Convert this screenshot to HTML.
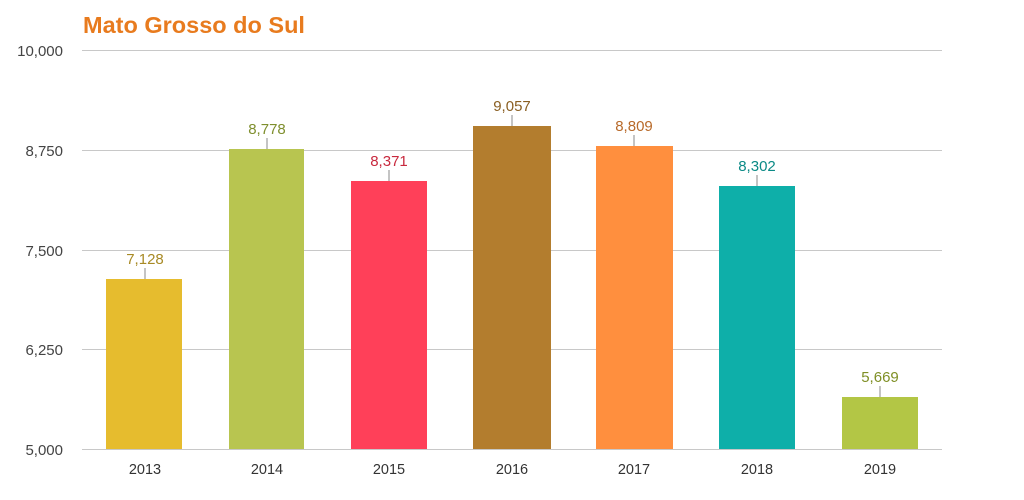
<!DOCTYPE html>
<html><head><meta charset="utf-8"><style>body{margin:0;background:#fff}svg{display:block}</style></head><body>
<svg width="1024" height="500" xmlns="http://www.w3.org/2000/svg" font-family="Liberation Sans, sans-serif">
<text x="83" y="33" font-size="23.5" font-weight="bold" fill="#e87b1e">Mato Grosso do Sul</text>
<g stroke="#c8c8c8" stroke-width="1">
<line x1="82" x2="942" y1="50.5" y2="50.5"/><line x1="82" x2="942" y1="150.5" y2="150.5"/><line x1="82" x2="942" y1="250.5" y2="250.5"/><line x1="82" x2="942" y1="349.5" y2="349.5"/><line x1="82" x2="942" y1="449.5" y2="449.5"/>
</g>
<g font-size="15" fill="#444" text-anchor="end">
<text x="63" y="56">10,000</text><text x="63" y="156">8,750</text><text x="63" y="256">7,500</text><text x="63" y="355">6,250</text><text x="63" y="455">5,000</text>
</g>
<g font-size="14.5" fill="#333" text-anchor="middle">
<text x="145" y="474">2013</text><text x="267" y="474">2014</text><text x="389" y="474">2015</text><text x="512" y="474">2016</text><text x="634" y="474">2017</text><text x="757" y="474">2018</text><text x="880" y="474">2019</text>
</g>
<g>
<rect x="106" y="279" width="76" height="170" fill="#e6bc2e"/>
<rect x="229" y="149" width="75" height="300" fill="#b8c550"/>
<rect x="351" y="181" width="76" height="268" fill="#ff4059"/>
<rect x="473" y="126" width="78" height="323" fill="#b37d2e"/>
<rect x="596" y="146" width="77" height="303" fill="#ff8f3e"/>
<rect x="719" y="186" width="76" height="263" fill="#0eafa9"/>
<rect x="842" y="397" width="76" height="52" fill="#b3c645"/>
</g>
<g stroke="#888" stroke-width="1">
<line x1="145" x2="145" y1="268" y2="279"/><line x1="267" x2="267" y1="138" y2="149"/><line x1="389" x2="389" y1="170" y2="181"/><line x1="512" x2="512" y1="115" y2="126"/><line x1="634" x2="634" y1="135" y2="146"/><line x1="757" x2="757" y1="175" y2="186"/><line x1="880" x2="880" y1="386" y2="397"/>
</g>
<g font-size="15" text-anchor="middle">
<text x="145" y="264" fill="#a88a25">7,128</text>
<text x="267" y="134" fill="#7f8f2e">8,778</text>
<text x="389" y="166" fill="#c8293e">8,371</text>
<text x="512" y="111" fill="#8a5f22">9,057</text>
<text x="634" y="131" fill="#b86a2a">8,809</text>
<text x="757" y="171" fill="#0b8a86">8,302</text>
<text x="880" y="382" fill="#7f8f25">5,669</text>
</g>
</svg>
</body></html>
